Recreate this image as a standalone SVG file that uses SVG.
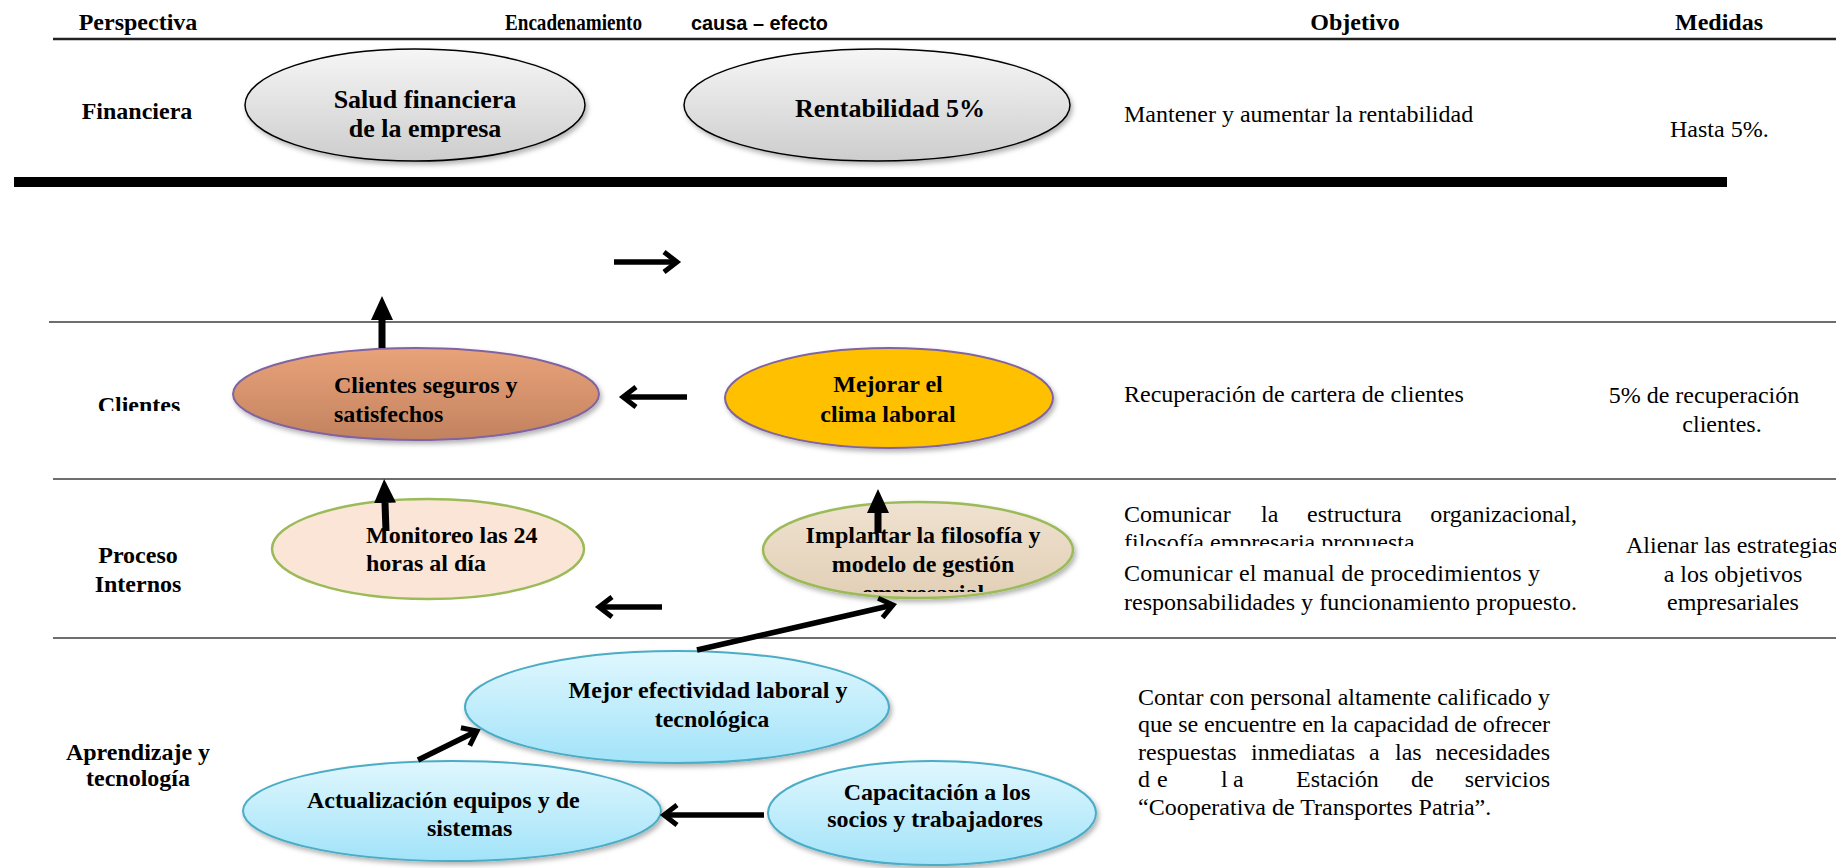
<svg xmlns="http://www.w3.org/2000/svg" width="1836" height="868" viewBox="0 0 1836 868">
  <style>
    .serif { font-family: "Liberation Serif", "Times New Roman", serif; fill: #000; }
    .bold { font-weight: bold; }
    .s24 { font-size: 24px; }
    .s26 { font-size: 26px; }
    .mid { text-anchor: middle; }
    .rule { stroke: #6e6e6e; stroke-width: 2; }
    .conn { fill: none; stroke: #000; stroke-width: 5.5; marker-end: url(#chev); }
    .up { fill: none; stroke: #000; stroke-width: 7; marker-end: url(#tri); }
    .gray { fill: url(#gGray); stroke: #000; stroke-width: 1.5; filter: url(#shadow); }
    .orange { fill: url(#gOrange); stroke: #8064a2; stroke-width: 2; filter: url(#shadow); }
    .gold { fill: #ffc000; stroke: #8064a2; stroke-width: 2; filter: url(#shadow); }
    .peach { fill: #fbe5d6; stroke: #9bbb59; stroke-width: 2.5; }
    .tan { fill: url(#gTan); stroke: #9bbb59; stroke-width: 2.5; filter: url(#shadow); }
    .cyan { fill: url(#gCyan); stroke: #4bacc6; stroke-width: 2; filter: url(#shadow); }
  </style>
  <defs>
    <linearGradient id="gGray" x1="0" y1="0" x2="0" y2="1">
      <stop offset="0" stop-color="#f6f6f6"/>
      <stop offset="1" stop-color="#cdcdcd"/>
    </linearGradient>
    <linearGradient id="gOrange" x1="0" y1="0" x2="0" y2="1">
      <stop offset="0" stop-color="#e9a37a"/>
      <stop offset="1" stop-color="#c2825f"/>
    </linearGradient>
    <linearGradient id="gTan" x1="0" y1="0" x2="0" y2="1">
      <stop offset="0" stop-color="#efe2d0"/>
      <stop offset="1" stop-color="#e2cfb6"/>
    </linearGradient>
    <linearGradient id="gCyan" x1="0" y1="0" x2="0" y2="1">
      <stop offset="0" stop-color="#e0f7fe"/>
      <stop offset="1" stop-color="#a2e3f9"/>
    </linearGradient>
    <filter id="shadow" x="-10%" y="-15%" width="125%" height="140%">
      <feDropShadow dx="2" dy="3" stdDeviation="2.5" flood-color="#000" flood-opacity="0.3"/>
    </filter>
    <marker id="chev" viewBox="-18 -14 24 28" refX="0" refY="0" markerWidth="24" markerHeight="28" markerUnits="userSpaceOnUse" orient="auto">
      <path d="M-13,-10 L0,0 L-13,10" fill="none" stroke="#000" stroke-width="5"/>
    </marker>
    <marker id="tri" viewBox="0 -12 25 24" refX="0" refY="0" markerWidth="25" markerHeight="24" markerUnits="userSpaceOnUse" orient="auto">
      <path d="M0,-11 L24,0 L0,11 Z" fill="#000"/>
    </marker>
    <clipPath id="clipClientes"><rect x="0" y="300" width="300" height="111"/></clipPath>
    <clipPath id="clipFilosofia"><rect x="1100" y="480" width="500" height="66"/></clipPath>
    <clipPath id="clipEmpresarial"><rect x="760" y="560" width="320" height="32"/></clipPath>
  </defs>

  <rect x="0" y="0" width="1836" height="868" fill="#fff"/>

  <!-- table header -->
  <g id="header">
    <text class="serif bold s24 mid" x="138" y="30">Perspectiva</text>
    <text class="serif bold s24" x="505" y="30" textLength="137" lengthAdjust="spacingAndGlyphs">Encadenamiento</text>
    <text x="691" y="30" font-family="'Liberation Sans', Arial, sans-serif" font-weight="bold" font-size="21" textLength="137" lengthAdjust="spacingAndGlyphs">causa – efecto</text>
    <text class="serif bold s24 mid" x="1355" y="30">Objetivo</text>
    <text class="serif bold s24 mid" x="1719" y="30">Medidas</text>
    <line x1="53" y1="39" x2="1836" y2="39" stroke="#222" stroke-width="2.5"/>
  </g>

  <!-- row separators -->
  <g id="rules">
    <rect x="14" y="177" width="1713" height="10" fill="#000"/>
    <line class="rule" x1="49" y1="322" x2="1836" y2="322"/>
    <line class="rule" x1="53" y1="479" x2="1836" y2="479"/>
    <line class="rule" x1="53" y1="638" x2="1836" y2="638"/>
  </g>

  <!-- perspective labels -->
  <g id="perspectivas">
    <text class="serif bold s24 mid" x="137" y="119">Financiera</text>
    <text class="serif bold s24 mid" x="139" y="413" clip-path="url(#clipClientes)">Clientes</text>
    <text class="serif bold s24 mid" x="138" y="563">Proceso</text>
    <text class="serif bold s24 mid" x="138" y="592">Internos</text>
    <text class="serif bold s24 mid" x="138" y="760">Aprendizaje y</text>
    <text class="serif bold s24 mid" x="138" y="786">tecnología</text>
  </g>

  <!-- objectives -->
  <g id="objetivos" class="serif s24">
    <text x="1124" y="122">Mantener y aumentar la rentabilidad</text>
    <text x="1124" y="402">Recuperación de cartera de clientes</text>
    <text x="1124" y="522">Comunicar</text>
    <text x="1261" y="522">la</text>
    <text x="1307" y="522">estructura</text>
    <text x="1577" y="522" text-anchor="end">organizacional,</text>
    <text x="1124" y="550" clip-path="url(#clipFilosofia)">filosofía empresaria propuesta</text>
    <text x="1124" y="581" textLength="416" lengthAdjust="spacing">Comunicar el manual de procedimientos y</text>
    <text x="1124" y="610" textLength="453" lengthAdjust="spacing">responsabilidades y funcionamiento propuesto.</text>
    <text x="1138" y="705" textLength="412" lengthAdjust="spacing">Contar con personal altamente calificado y</text>
    <text x="1138" y="732" textLength="412" lengthAdjust="spacing">que se encuentre en la capacidad de ofrecer</text>
    <text x="1138" y="760">respuestas</text>
    <text x="1251" y="760">inmediatas</text>
    <text x="1369" y="760">a</text>
    <text x="1395" y="760">las</text>
    <text x="1550" y="760" text-anchor="end">necesidades</text>
    <text x="1138" y="787">d</text>
    <text x="1157" y="787">e</text>
    <text x="1221" y="787">l</text>
    <text x="1233" y="787">a</text>
    <text x="1296" y="787">Estación</text>
    <text x="1411" y="787">de</text>
    <text x="1550" y="787" text-anchor="end">servicios</text>
    <text x="1138" y="815">“Cooperativa de Transportes Patria”.</text>
  </g>

  <!-- measures -->
  <g id="medidas" class="serif s24">
    <text x="1670" y="137">Hasta 5%.</text>
    <text class="mid" x="1704" y="403">5% de recuperación</text>
    <text class="mid" x="1722" y="432">clientes.</text>
    <text class="mid" x="1732" y="553">Alienar las estrategias</text>
    <text class="mid" x="1733" y="582">a los objetivos</text>
    <text class="mid" x="1733" y="610">empresariales</text>
  </g>

  <!-- financial perspective -->
  <g id="n-salud">
    <ellipse class="gray" cx="415" cy="105" rx="170" ry="56"/>
    <text class="serif bold s26 mid" x="425" y="108">Salud financiera</text>
    <text class="serif bold s26 mid" x="425" y="137">de la empresa</text>
  </g>
  <g id="n-rentabilidad">
    <ellipse class="gray" cx="877" cy="105" rx="193" ry="56"/>
    <text class="serif bold s26 mid" x="890" y="117">Rentabilidad 5%</text>
  </g>

  <!-- customer perspective -->
  <g id="n-clientes">
    <ellipse class="orange" cx="416" cy="394" rx="183" ry="46"/>
    <text class="serif bold s24" x="334" y="393">Clientes seguros y</text>
    <text class="serif bold s24" x="334" y="422">satisfechos</text>
  </g>
  <g id="n-clima">
    <ellipse class="gold" cx="889" cy="398" rx="164" ry="50"/>
    <text class="serif bold s24 mid" x="888" y="392">Mejorar el</text>
    <text class="serif bold s24 mid" x="888" y="422">clima laboral</text>
  </g>

  <!-- internal process perspective -->
  <g id="n-monitoreo">
    <ellipse class="peach" cx="428" cy="549" rx="156" ry="50"/>
    <text class="serif bold s24" x="366" y="543">Monitoreo las 24</text>
    <text class="serif bold s24" x="366" y="571">horas al día</text>
  </g>
  <g id="n-implantar">
    <ellipse class="tan" cx="918" cy="550" rx="155" ry="48"/>
    <text class="serif bold s24 mid" x="923" y="543">Implantar la filosofía y</text>
    <text class="serif bold s24 mid" x="923" y="572">modelo de gestión</text>
    <text class="serif bold s24 mid" x="923" y="601" clip-path="url(#clipEmpresarial)">empresarial</text>
  </g>

  <!-- learning and technology perspective -->
  <g id="n-efectividad">
    <ellipse class="cyan" cx="677" cy="707" rx="212" ry="56"/>
    <text class="serif bold s24 mid" x="708" y="698">Mejor efectividad laboral y</text>
    <text class="serif bold s24 mid" x="712" y="727">tecnológica</text>
  </g>
  <g id="n-actualizacion">
    <ellipse class="cyan" cx="452" cy="811" rx="209" ry="50"/>
    <text class="serif bold s24" x="307" y="808">Actualización equipos y de</text>
    <text class="serif bold s24" x="427" y="836">sistemas</text>
  </g>
  <g id="n-capacitacion">
    <ellipse class="cyan" cx="932" cy="813" rx="164" ry="52"/>
    <text class="serif bold s24 mid" x="937" y="800">Capacitación a los</text>
    <text class="serif bold s24 mid" x="935" y="827">socios y trabajadores</text>
  </g>

  <!-- cause-effect connectors -->
  <g id="connectors">
    <path class="conn" d="M614,262 L677,262"/>
    <path class="conn" d="M687,397 L623,397"/>
    <path class="conn" d="M662,607 L599,607"/>
    <path class="conn" d="M764,815 L664,815"/>
    <path class="conn" d="M697,650 L893,605"/>
    <path class="conn" d="M418,760 L477,731"/>
    <path class="up" d="M382,348 L382,320"/>
    <path class="up" d="M386,531 L385,503"/>
    <path class="up" d="M878,533 L878,513"/>
  </g>
</svg>
